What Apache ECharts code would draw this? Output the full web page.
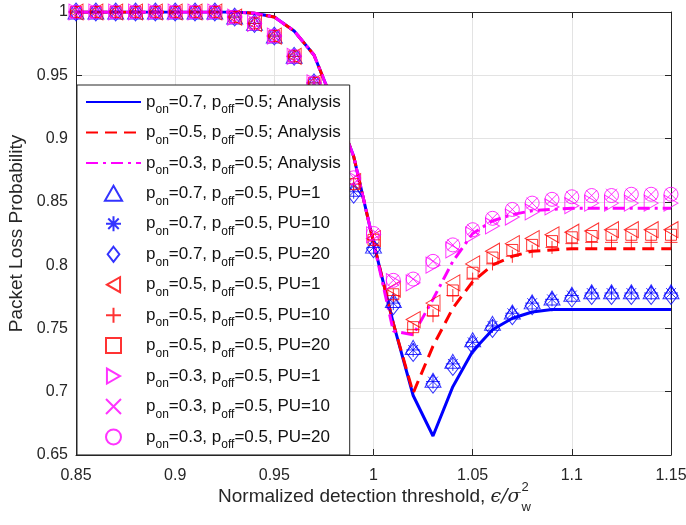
<!DOCTYPE html>
<html>
<head>
<meta charset="utf-8">
<script src="https://cdn.jsdelivr.net/npm/echarts@6/dist/echarts.min.js"></script>
<style>
html,body{margin:0;padding:0;background:#fff;}
#chart{width:686px;height:525px;}
</style>
</head>
<body>
<div id="chart"></div>
<script>
// ---------------- data ----------------
const thresholds = [0.85,0.86,0.87,0.88,0.89,0.90,0.91,0.92,0.93,0.94,0.95,0.96,0.97,0.98,0.99,1.00,1.01,1.02,1.03,1.04,1.05,1.06,1.07,1.08,1.09,1.10,1.11,1.12,1.13,1.14,1.15];

const analysisOn07 = [1,1,1,1,1,1,1,1,1,0.999,0.996,0.985,0.966,0.927,0.886,0.818,0.754,0.697,0.665,0.704,0.732,0.749,0.758,0.763,0.765,0.765,0.765,0.765,0.765,0.765,0.765];
const analysisOn05 = [1,1,1,1,1,1,1,1,1,0.999,0.996,0.985,0.966,0.927,0.886,0.818,0.754,0.699,0.736,0.766,0.787,0.800,0.807,0.811,0.812,0.813,0.813,0.813,0.813,0.813,0.813];
const analysisOn03 = [1,1,1,1,1,1,1,1,1,0.999,0.996,0.985,0.966,0.927,0.886,0.818,0.748,0.745,0.773,0.803,0.825,0.835,0.840,0.843,0.844,0.845,0.845,0.845,0.845,0.845,0.845];

const simOn07PU1  = [1,1,1,1,1,1,1,1,0.996,0.991,0.981,0.965,0.944,0.906,0.860,0.815,0.772,0.735,0.709,0.724,0.741,0.754,0.763,0.771,0.774,0.777,0.779,0.779,0.779,0.779,0.779];
const simOn07PU10 = [1,1,1,1,1,1,1,1,0.996,0.991,0.981,0.965,0.944,0.906,0.858,0.814,0.770,0.733,0.708,0.722,0.739,0.752,0.762,0.770,0.773,0.776,0.778,0.778,0.778,0.778,0.778];
const simOn07PU20 = [1,1,1,1,1,1,1,1,0.996,0.991,0.981,0.965,0.944,0.906,0.856,0.813,0.768,0.731,0.706,0.720,0.737,0.750,0.760,0.768,0.771,0.774,0.776,0.776,0.776,0.776,0.776];

const simOn05PU1  = [1,1,1,1,1,1,1,1,0.996,0.991,0.981,0.965,0.944,0.906,0.866,0.821,0.781,0.757,0.770,0.786,0.801,0.811,0.817,0.821,0.824,0.826,0.827,0.828,0.828,0.828,0.828];
const simOn05PU10 = [1,1,1,1,1,1,1,1,0.996,0.991,0.981,0.965,0.944,0.906,0.864,0.820,0.776,0.749,0.760,0.776,0.789,0.801,0.807,0.811,0.814,0.817,0.818,0.818,0.818,0.818,0.818];
const simOn05PU20 = [1,1,1,1,1,1,1,1,0.996,0.991,0.981,0.965,0.944,0.906,0.864,0.820,0.777,0.751,0.764,0.780,0.794,0.806,0.812,0.816,0.819,0.822,0.823,0.824,0.824,0.824,0.824];

const simOn03PU1  = [1,1,1,1,1,1,1,1,0.996,0.991,0.981,0.965,0.944,0.906,0.868,0.824,0.787,0.786,0.800,0.812,0.824,0.831,0.838,0.842,0.846,0.847,0.849,0.849,0.849,0.849,0.849];
const simOn03PU10 = [1,1,1,1,1,1,1,1,0.996,0.991,0.981,0.965,0.944,0.906,0.869,0.825,0.788,0.789,0.803,0.816,0.828,0.837,0.844,0.849,0.852,0.854,0.855,0.856,0.856,0.856,0.856];
const simOn03PU20 = [1,1,1,1,1,1,1,1,0.996,0.991,0.981,0.965,0.944,0.906,0.869,0.825,0.788,0.789,0.803,0.816,0.828,0.837,0.844,0.849,0.852,0.854,0.855,0.855,0.856,0.856,0.856];

const xTicks = [0.85, 0.9, 0.95, 1, 1.05, 1.1, 1.15];
const yTicks = [0.65, 0.7, 0.75, 0.8, 0.85, 0.9, 0.95, 1];

const seriesNames = [
  'pon=0.7, poff=0.5; Analysis',
  'pon=0.5, poff=0.5; Analysis',
  'pon=0.3, poff=0.5; Analysis',
  'pon=0.7, poff=0.5, PU=1',
  'pon=0.7, poff=0.5, PU=10',
  'pon=0.7, poff=0.5, PU=20',
  'pon=0.5, poff=0.5, PU=1',
  'pon=0.5, poff=0.5, PU=10',
  'pon=0.5, poff=0.5, PU=20',
  'pon=0.3, poff=0.5, PU=1',
  'pon=0.3, poff=0.5, PU=10',
  'pon=0.3, poff=0.5, PU=20'
];

// ---------------- styles ----------------
const FONT = '"Liberation Sans", Arial, Helvetica, sans-serif';
const BLUE = '#0000ff', RED = '#ff0000', MAG = '#ff00ff';
const AXIS = '#262626';

const PLUS = 'path://M0,-1L0,1M-1,0L1,0';
const CROSS = 'path://M-1,-1L1,1M-1,1L1,-1';
const STAR = 'path://M0,-1L0,1M-1,0L1,0M-0.7,-0.7L0.7,0.7M-0.7,0.7L0.7,-0.7';
const TRI_UP = 'path://M8,0L16,14L0,14Z';
const TRI_LEFT = 'path://M0,8L14,0L14,16Z';
const TRI_RIGHT = 'path://M14,8L0,0L0,16Z';
const DIAMOND = 'path://M7,0L14,9L7,18L0,9Z';
const SQUARE = 'path://M0,0L10,0L10,10L0,10Z';

function pairs(arr) { return thresholds.map((x, i) => [x, arr[i]]); }

function lineSeries(name, arr, color, type) {
  return {
    name, type: 'line', data: pairs(arr), symbol: 'none', showSymbol: false, silent: true,
    lineStyle: { color, width: 3, type },
    itemStyle: { color },
    emphasis: { disabled: true }, z: 2
  };
}
function markSeries(name, arr, color, symbol, size) {
  return {
    name, type: 'scatter', data: pairs(arr), symbol, symbolSize: size, silent: true,
    itemStyle: { color: 'rgba(0,0,0,0)', borderColor: color, borderWidth: 1 },
    emphasis: { disabled: true }, z: 3
  };
}

const series = [
  lineSeries(seriesNames[0], analysisOn07, BLUE, 'solid'),
  lineSeries(seriesNames[1], analysisOn05, RED, [12, 7]),
  lineSeries(seriesNames[2], analysisOn03, MAG, [12, 5, 3, 5]),
  markSeries(seriesNames[3], simOn07PU1, BLUE, TRI_UP, [16, 14]),
  markSeries(seriesNames[4], simOn07PU10, BLUE, STAR, 14),
  markSeries(seriesNames[5], simOn07PU20, BLUE, DIAMOND, [14, 18]),
  markSeries(seriesNames[6], simOn05PU1, RED, TRI_LEFT, [14, 16]),
  markSeries(seriesNames[7], simOn05PU10, RED, PLUS, 13),
  markSeries(seriesNames[8], simOn05PU20, RED, SQUARE, 11),
  markSeries(seriesNames[9], simOn03PU1, MAG, TRI_RIGHT, [14, 16]),
  markSeries(seriesNames[10], simOn03PU10, MAG, CROSS, 11),
  markSeries(seriesNames[11], simOn03PU20, MAG, 'circle', 14)
];

function fmt(v) { return String(parseFloat(Number(v).toFixed(2))); }

// x axis name with stacked sub/superscript
const meas = document.createElement('canvas').getContext('2d');
function tw(font, s) { meas.font = font; return meas.measureText(s).width; }
const nameFontMain = '19px "Liberation Sans"';
const nameFontSym = 'italic 19px "DejaVu Serif"';
const nameFontSmall = '13px "Liberation Sans"';
const partA = 'Normalized detection threshold, ';
const partB = 'ϵ/σ';
const wA = tw(nameFontMain, partA), wB = tw(nameFontSym, partB);
const wS = Math.max(tw(nameFontSmall, '2'), tw(nameFontSmall, 'w'));
const totalW = wA + wB + 1 + wS;
const nameX0 = 374.5 - totalW / 2;
const nameY = 497;

const legendData = seriesNames.map((n, i) => i < 3
  ? { name: n, itemStyle: { opacity: 0 } }
  : { name: n });

const chart = echarts.init(document.getElementById('chart'), null, { renderer: 'canvas' });
chart.setOption({
  animation: false,
  backgroundColor: '#fff',
  grid: { left: 76, top: 12, width: 595, height: 443, outerBoundsMode: 'none', containLabel: false },
  xAxis: [
    {
      type: 'value', position: 'bottom', min: xTicks[0], max: xTicks[xTicks.length - 1], interval: 0.05,
      axisLine: { show: true, onZero: false, lineStyle: { color: AXIS, width: 1 } },
      axisTick: { show: true, inside: true, length: 6, lineStyle: { color: AXIS } },
      axisLabel: { fontSize: 16, fontFamily: FONT, color: AXIS, margin: 13, formatter: fmt },
      splitLine: { show: true, lineStyle: { color: '#e3e3e3', width: 1 } }
    },
    {
      type: 'value', position: 'top', min: xTicks[0], max: xTicks[xTicks.length - 1], interval: 0.05,
      axisLine: { show: true, onZero: false, lineStyle: { color: AXIS, width: 1 } },
      axisTick: { show: true, inside: true, length: 6, lineStyle: { color: AXIS } },
      axisLabel: { show: false }, splitLine: { show: false }
    }
  ],
  yAxis: [
    {
      type: 'value', position: 'left', min: yTicks[0], max: yTicks[yTicks.length - 1], interval: 0.05,
      axisLine: { show: true, onZero: false, lineStyle: { color: AXIS, width: 1 } },
      axisTick: { show: true, inside: true, length: 6, lineStyle: { color: AXIS } },
      axisLabel: { fontSize: 16, fontFamily: FONT, color: AXIS, margin: 8, formatter: fmt },
      splitLine: { show: true, lineStyle: { color: '#e3e3e3', width: 1 } },
      name: 'Packet Loss Probability', nameLocation: 'middle', nameGap: 45,
      nameTextStyle: { fontSize: 19, fontFamily: FONT, color: AXIS }
    },
    {
      type: 'value', position: 'right', min: yTicks[0], max: yTicks[yTicks.length - 1], interval: 0.05,
      axisLine: { show: true, onZero: false, lineStyle: { color: AXIS, width: 1 } },
      axisTick: { show: true, inside: true, length: 6, lineStyle: { color: AXIS } },
      axisLabel: { show: false }, splitLine: { show: false }
    }
  ],
  legend: {
    orient: 'vertical', left: 77, top: 85, padding: [3, 9, 4, 8], itemGap: 2.45,
    itemWidth: 55, itemHeight: 15, selectedMode: false, symbolKeepAspect: true,
    backgroundColor: '#fff', borderColor: AXIS, borderWidth: 1, borderRadius: 0, z: 10,
    data: legendData,
    formatter: function (name) {
      return '{m|' + name.replace(/p(on|off)/g, 'p}{s|$1}{m|') + '}';
    },
    textStyle: {
      rich: {
        m: { fontSize: 17, fontFamily: FONT, color: '#111', lineHeight: 22 },
        s: { fontSize: 12, fontFamily: FONT, color: '#111', lineHeight: 12, padding: [16, 0, 0, 0] }
      }
    }
  },
  graphic: [
    { type: 'text', x: nameX0, y: nameY, silent: true,
      style: { text: partA, font: nameFontMain, fill: AXIS, align: 'left', verticalAlign: 'middle', textAlign: 'left', textVerticalAlign: 'middle' } },
    { type: 'text', x: nameX0 + wA, y: nameY, silent: true,
      style: { text: partB, font: nameFontSym, fill: AXIS, align: 'left', verticalAlign: 'middle', textAlign: 'left', textVerticalAlign: 'middle' } },
    { type: 'text', x: nameX0 + wA + wB + 1, y: nameY - 10, silent: true,
      style: { text: '2', font: nameFontSmall, fill: AXIS, align: 'left', verticalAlign: 'middle', textAlign: 'left', textVerticalAlign: 'middle' } },
    { type: 'text', x: nameX0 + wA + wB + 1, y: nameY + 10, silent: true,
      style: { text: 'w', font: nameFontSmall, fill: AXIS, align: 'left', verticalAlign: 'middle', textAlign: 'left', textVerticalAlign: 'middle' } }
  ],
  series
});
</script>
</body>
</html>
